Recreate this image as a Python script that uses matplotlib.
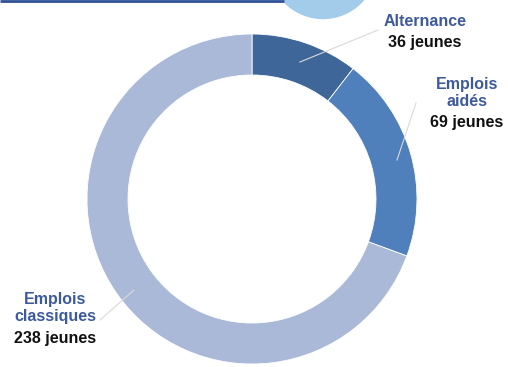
import matplotlib.pyplot as plt
from matplotlib.patches import Circle

plt.rcParams['font.family'] = ['Liberation Sans', 'DejaVu Sans']

# Data
categories = ['Alternance', 'Emplois\naidés', 'Emplois\nclassiques']
values = [36, 69, 238]
value_labels = ['36 jeunes', '69 jeunes', '238 jeunes']
colors = ['#3f6699', '#4f80bb', '#aab9d7']

W, H = 508, 367
fig = plt.figure(figsize=(W / 100, H / 100), dpi=100)
ax = fig.add_axes([0, 0, 1, 1])

# decorative header: line + light blue circle
ax.plot([0, 284], [H - 0.8, H - 0.8], color='#2f4f98', lw=2, solid_capstyle='butt')
ax.add_patch(Circle((323, H + 35), 53.5, color='#a3cbea', zorder=1))

cx, cy, r = 252, H - 199, 165
ax.pie(values, colors=colors, startangle=90, counterclock=False,
       center=(cx, cy), radius=r, frame=True,
       wedgeprops=dict(width=41, edgecolor='white', linewidth=0.6))
ax.set_xlim(0, W)
ax.set_ylim(0, H)
ax.axis('off')

# leader lines
lc = '#d9d9d9'
ax.plot([300, 378], [H - 62, H - 30], color=lc, lw=0.8)
ax.plot([397, 416], [H - 160, H - 103], color=lc, lw=0.8)
ax.plot([100, 134], [H - 320, H - 290], color=lc, lw=0.8)

# labels
lab_col = '#3d5a9c'
fs = 11.5
ax.text(425, H - 22, categories[0], ha='center', va='center', fontsize=fs,
        fontweight='bold', color=lab_col)
ax.text(425, H - 42, value_labels[0], ha='center', va='center', fontsize=fs,
        fontweight='bold', color='#111111')

ax.text(467, H - 93, categories[1], ha='center', va='center', fontsize=fs,
        fontweight='bold', color=lab_col, linespacing=1.2)
ax.text(467, H - 123, value_labels[1], ha='center', va='center', fontsize=fs,
        fontweight='bold', color='#111111')

ax.text(55, H - 308, categories[2], ha='center', va='center', fontsize=fs,
        fontweight='bold', color=lab_col, linespacing=1.2)
ax.text(55, H - 338, value_labels[2], ha='center', va='center', fontsize=fs,
        fontweight='bold', color='#111111')

fig.savefig('out.png', dpi=100)
